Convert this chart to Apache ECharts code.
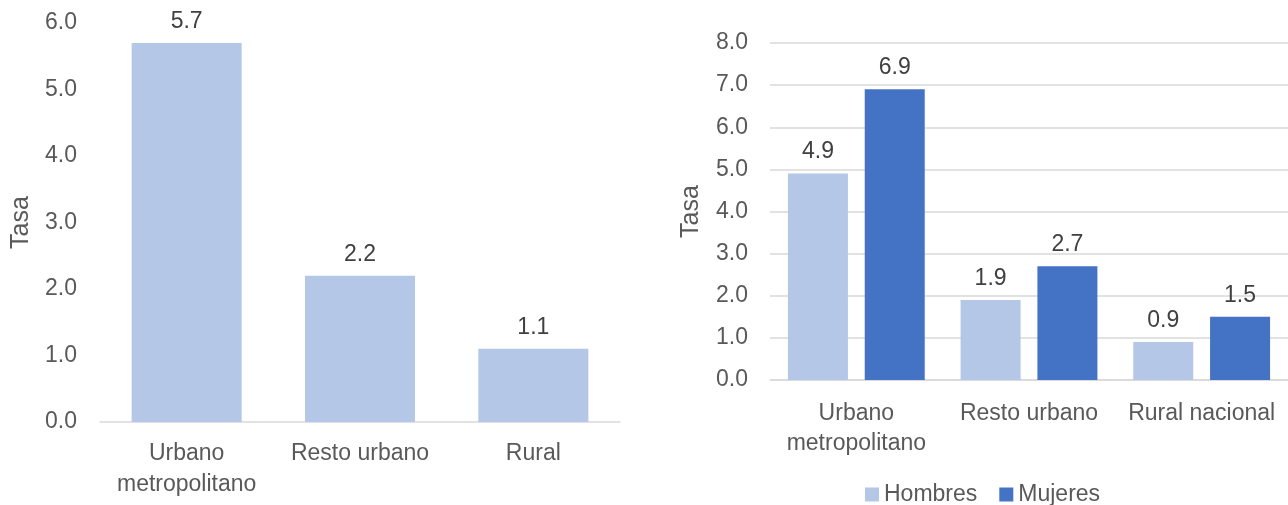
<!DOCTYPE html>
<html>
<head>
<meta charset="utf-8">
<script src="https://cdn.jsdelivr.net/npm/echarts@6/dist/echarts.min.js"></script>
<style>
html,body{margin:0;padding:0;background:#fff;}
#c{width:1288px;height:505px;}
</style>
</head>
<body>
<div id="c"></div>
<script>
const leftCategories = ['Urbano\nmetropolitano', 'Resto urbano', 'Rural'];
const leftValues = [5.7, 2.2, 1.1];
const rightCategories = ['Urbano\nmetropolitano', 'Resto urbano', 'Rural nacional'];
const hombres = [4.9, 1.9, 0.9];
const mujeres = [6.9, 2.7, 1.5];
const axisName = 'Tasa';
const legendNames = ['Hombres', 'Mujeres'];

const FONT = 'Liberation Sans, Arial, sans-serif';
const tickColor = '#595959';
const labelColor = '#404040';
const fs = 23;

const chart = echarts.init(document.getElementById('c'), null, {renderer: 'canvas'});
const fmt = v => v.toFixed(1);
const dataLabel = {show: true, position: 'top', distance: 10, color: labelColor, fontSize: fs, fontFamily: FONT, formatter: p => p.value.toFixed(1)};

chart.setOption({
  animation: false,
  textStyle: {fontFamily: FONT},
  legend: {
    data: legendNames, left: 860, top: 478, itemWidth: 14, itemHeight: 14, itemGap: 22,
    icon: 'rect', textStyle: {fontSize: fs, color: tickColor, fontFamily: FONT}
  },
  grid: [
    {left: 100, width: 520, top: 23, height: 399},
    {left: 770, width: 518, top: 43, height: 337}
  ],
  xAxis: [
    {type: 'category', gridIndex: 0, data: leftCategories,
     axisLine: {lineStyle: {color: '#D9D9D9', width: 1.5}}, axisTick: {show: false},
     axisLabel: {color: tickColor, fontSize: fs, lineHeight: 31, margin: 16, fontFamily: FONT, interval: 0}},
    {type: 'category', gridIndex: 1, data: rightCategories,
     axisLine: {lineStyle: {color: '#D9D9D9', width: 1.5}}, axisTick: {show: false},
     axisLabel: {color: tickColor, fontSize: fs, lineHeight: 30, margin: 19, fontFamily: FONT, interval: 0}}
  ],
  yAxis: [
    {type: 'value', gridIndex: 0, min: 0, max: 6, interval: 1,
     name: axisName, nameLocation: 'middle', nameRotate: 90, nameGap: 66,
     nameTextStyle: {color: tickColor, fontSize: 25, fontFamily: FONT},
     axisLine: {show: false}, axisTick: {show: false}, splitLine: {show: false},
     axisLabel: {formatter: fmt, color: tickColor, fontSize: fs, margin: 23, fontFamily: FONT}},
    {type: 'value', gridIndex: 1, min: 0, max: 8, interval: 1,
     name: axisName, nameLocation: 'middle', nameRotate: 90, nameGap: 66,
     nameTextStyle: {color: tickColor, fontSize: 25, fontFamily: FONT},
     axisLine: {show: false}, axisTick: {show: false},
     splitLine: {lineStyle: {color: '#D9D9D9', width: 1.5}},
     axisLabel: {formatter: fmt, color: tickColor, fontSize: fs, margin: 22, fontFamily: FONT}}
  ],
  series: [
    {name: 'Total', type: 'bar', xAxisIndex: 0, yAxisIndex: 0, data: leftValues,
     barWidth: 110, itemStyle: {color: '#B4C7E7'}, label: dataLabel},
    {name: legendNames[0], type: 'bar', xAxisIndex: 1, yAxisIndex: 1, data: hombres,
     barWidth: 60, barGap: '28%', itemStyle: {color: '#B4C7E7'}, label: dataLabel},
    {name: legendNames[1], type: 'bar', xAxisIndex: 1, yAxisIndex: 1, data: mujeres,
     barWidth: 60, barGap: '28%', itemStyle: {color: '#4472C4'}, label: dataLabel}
  ]
});
</script>
</body>
</html>
